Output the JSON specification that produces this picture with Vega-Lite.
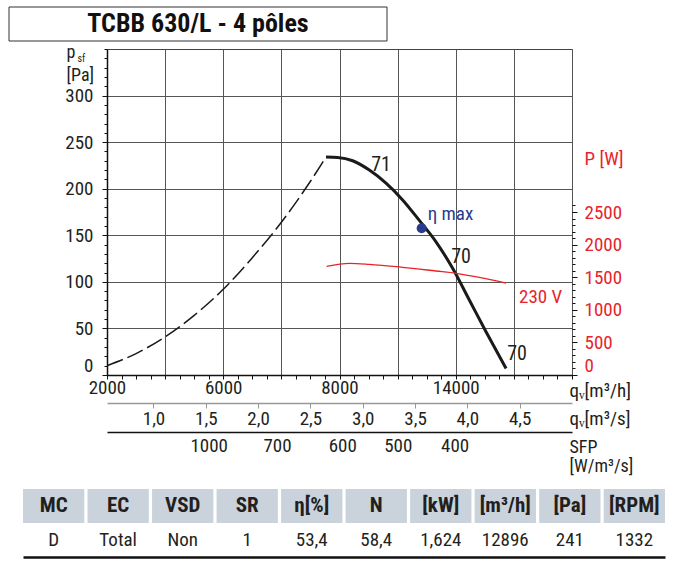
{
  "$schema": "https://vega.github.io/schema/vega-lite/v6.json",
  "width": 465,
  "height": 326,
  "autosize": {"type": "none"},
  "padding": {"left": 107, "top": 49, "right": 111, "bottom": 186},
  "background": "white",
  "datasets": {
    "system": [
      {"q": 2000, "pa": 10}, {"q": 3000, "pa": 23}, {"q": 4000, "pa": 41},
      {"q": 5000, "pa": 64}, {"q": 6000, "pa": 92}, {"q": 7000, "pa": 126},
      {"q": 8000, "pa": 164}, {"q": 9000, "pa": 208}, {"q": 9536, "pa": 234}
    ],
    "fan": [
      {"q": 9536, "pa": 234}, {"q": 9935, "pa": 233.5}, {"q": 10452, "pa": 230},
      {"q": 11026, "pa": 220}, {"q": 11600, "pa": 206}, {"q": 12172, "pa": 188},
      {"q": 12746, "pa": 166}, {"q": 13321, "pa": 143}, {"q": 13893, "pa": 114.5},
      {"q": 14467, "pa": 80.5}, {"q": 15041, "pa": 46.5}, {"q": 15730, "pa": 7}
    ],
    "power": [
      {"q": 9557, "p": 1665}, {"q": 10338, "p": 1713}, {"q": 11026, "p": 1698},
      {"q": 12172, "p": 1652}, {"q": 13321, "p": 1595}, {"q": 14009, "p": 1560},
      {"q": 14811, "p": 1498}, {"q": 15730, "p": 1410}
    ],
    "powerEnd": [{"q": 15730, "p": 1410, "label": "230 V"}],
    "etaMax": [{"qs": 3.563, "pa": 157.5, "label": "η max"}],
    "eff": [
      {"q": 11428, "pa": 225, "label": "71"},
      {"q": 14181, "pa": 127, "label": "70"},
      {"q": 16108, "pa": 23, "label": "70"}
    ],
    "table": [
      {"col": "MC", "row": "h", "text": "MC"}, {"col": "MC", "row": "v", "text": "D"},
      {"col": "EC", "row": "h", "text": "EC"}, {"col": "EC", "row": "v", "text": "Total"},
      {"col": "VSD", "row": "h", "text": "VSD"}, {"col": "VSD", "row": "v", "text": "Non"},
      {"col": "SR", "row": "h", "text": "SR"}, {"col": "SR", "row": "v", "text": "1"},
      {"col": "η[%]", "row": "h", "text": "η[%]"}, {"col": "η[%]", "row": "v", "text": "53,4"},
      {"col": "N", "row": "h", "text": "N"}, {"col": "N", "row": "v", "text": "58,4"},
      {"col": "[kW]", "row": "h", "text": "[kW]"}, {"col": "[kW]", "row": "v", "text": "1,624"},
      {"col": "[m³/h]", "row": "h", "text": "[m³/h]"}, {"col": "[m³/h]", "row": "v", "text": "12896"},
      {"col": "[Pa]", "row": "h", "text": "[Pa]"}, {"col": "[Pa]", "row": "v", "text": "241"},
      {"col": "[RPM]", "row": "h", "text": "[RPM]"}, {"col": "[RPM]", "row": "v", "text": "1332"}
    ],
    "title": [{"t": "TCBB 630/L - 4 pôles"}]
  },
  "layer": [
    {
      "data": {"name": "system"},
      "mark": {"type": "line", "color": "#1a1a1a", "strokeWidth": 1.5, "strokeDash": [17, 5], "interpolate": "monotone"},
      "encoding": {
        "x": {"field": "q", "type": "quantitative",
          "scale": {"domain": [2000, 18000], "nice": false, "zero": false},
          "axis": {"orient": "bottom", "values": [2000, 4000, 6000, 8000, 10000, 12000, 14000, 16000, 18000],
            "grid": true, "gridColor": "#555", "gridWidth": 1, "ticks": false,
            "domain": true, "domainColor": "#111", "domainWidth": 1.5,
            "labelExpr": "datum.value == 2000 ? '2000' : datum.value == 6000 ? '6000' : datum.value == 10000 ? '8000' : datum.value == 14000 ? '14000' : ''",
            "labelFontSize": 19, "labelColor": "#231f20", "labelPadding": 3, "labelFlush": false, "labelOverlap": false,
            "title": "qᵥ[m³/h]", "titleX": 462, "titleY": 21, "titleAlign": "left", "titleBaseline": "alphabetic",
            "titleAngle": 0, "titleFontSize": 19, "titleFontWeight": "normal", "titleColor": "#231f20"}},
        "y": {"field": "pa", "type": "quantitative",
          "scale": {"domain": [0, 350], "nice": false, "zero": true},
          "axis": {"orient": "left", "values": [0, 50, 100, 150, 200, 250, 300],
            "grid": true, "gridColor": "#555", "gridWidth": 1, "ticks": true, "tickSize": 5, "tickColor": "#111",
            "domain": true, "domainColor": "#111", "domainWidth": 1.5,
            "labelFontSize": 19, "labelColor": "#231f20", "labelPadding": 9, "labelFlush": true, "labelOverlap": false,
            "title": ["p", "[Pa]"], "titleX": -41, "titleY": 8, "titleAlign": "left", "titleBaseline": "alphabetic",
            "titleAngle": 0, "titleFontSize": 18, "titleLineHeight": 23, "titleFontWeight": "normal", "titleColor": "#231f20"}}
      }
    },
    {
      "data": {"name": "fan"},
      "mark": {"type": "line", "color": "#1a1a1a", "strokeWidth": 3, "interpolate": "monotone"},
      "encoding": {
        "x": {"field": "q", "type": "quantitative",
          "scale": {"domain": [2000, 18000], "nice": false, "zero": false},
          "axis": {"orient": "bottom", "values": [2000, 2500, 3000, 3500, 4000, 4500, 5000, 5500, 6000, 6500, 7000, 7500, 8000, 8500, 9000, 9500, 10000, 10500, 11000, 11500, 12000, 12500, 13000, 13500, 14000, 14500, 15000, 15500, 16000, 16500, 17000, 17500, 18000],
            "grid": false, "domain": false, "labels": false, "ticks": true, "tickSize": 4, "tickColor": "#111", "title": null}},
        "y": {"field": "pa", "type": "quantitative",
          "scale": {"domain": [0, 350], "nice": false, "zero": true},
          "axis": {"orient": "left", "values": [0, 10, 20, 30, 40, 50, 60, 70, 80, 90, 100, 110, 120, 130, 140, 150, 160, 170, 180, 190, 200, 210, 220, 230, 240, 250, 260, 270, 280, 290, 300, 310, 320, 330, 340, 350],
            "grid": false, "domain": false, "labels": false, "ticks": true, "tickSize": 3, "tickColor": "#111",
            "title": "sf", "titleX": -30, "titleY": 12, "titleAlign": "left", "titleBaseline": "alphabetic",
            "titleAngle": 0, "titleFontSize": 10, "titleFontWeight": "normal", "titleColor": "#231f20"}}
      }
    },
    {
      "data": {"name": "power"},
      "mark": {"type": "line", "color": "#e8232b", "strokeWidth": 1.3, "interpolate": "monotone"},
      "encoding": {
        "x": {"field": "q", "type": "quantitative", "scale": {"domain": [2000, 18000], "nice": false, "zero": false}, "axis": null},
        "y": {"field": "p", "type": "quantitative",
          "scale": {"domain": [0, 5000], "nice": false, "zero": true},
          "axis": {"orient": "right", "values": [0, 500, 1000, 1500, 2000, 2500], "format": "d",
            "grid": false, "domain": false, "ticks": true, "tickSize": 5, "tickColor": "#111",
            "labelFontSize": 19, "labelColor": "#e8232b", "labelPadding": 7, "labelFlush": true, "labelOverlap": false,
            "title": "P [W]", "titleX": 12, "titleY": 115, "titleAlign": "left", "titleBaseline": "alphabetic",
            "titleAngle": 0, "titleFontSize": 19, "titleFontWeight": "normal", "titleColor": "#e8232b"}}
      }
    },
    {
      "data": {"name": "powerEnd"},
      "mark": {"type": "text", "color": "#e8232b", "fontSize": 19, "align": "left", "baseline": "middle", "dx": 13, "dy": 14},
      "encoding": {
        "x": {"field": "q", "type": "quantitative", "scale": {"domain": [2000, 18000], "nice": false, "zero": false}, "axis": null},
        "y": {"field": "p", "type": "quantitative",
          "scale": {"domain": [0, 5000], "nice": false, "zero": true},
          "axis": {"orient": "right", "values": [0, 100, 200, 300, 400, 500, 600, 700, 800, 900, 1000, 1100, 1200, 1300, 1400, 1500, 1600, 1700, 1800, 1900, 2000, 2100, 2200, 2300, 2400, 2500, 2600],
            "grid": false, "domain": false, "labels": false, "ticks": true, "tickSize": 3, "tickColor": "#111", "title": null}},
        "text": {"field": "label"}
      }
    },
    {
      "data": {"name": "etaMax"},
      "mark": {"type": "point", "filled": true, "color": "#2b3a8f", "size": 100, "opacity": 1},
      "encoding": {
        "x": {"field": "qs", "type": "quantitative",
          "scale": {"domain": [0.5556, 5], "nice": false, "zero": false},
          "axis": {"orient": "bottom", "offset": 28, "values": [1, 1.5, 2, 2.5, 3, 3.5, 4, 4.5],
            "grid": false, "domain": true, "domainColor": "#999", "domainWidth": 1.5,
            "ticks": true, "tickSize": 5, "tickColor": "#999",
            "labelExpr": "replace(format(datum.value, '.1f'), '.', ',')",
            "labelFontSize": 19, "labelColor": "#231f20", "labelPadding": 1, "labelFlush": false, "labelOverlap": false,
            "title": "qᵥ[m³/s]", "titleX": 462, "titleY": 21, "titleAlign": "left", "titleBaseline": "alphabetic",
            "titleAngle": 0, "titleFontSize": 19, "titleFontWeight": "normal", "titleColor": "#231f20"}},
        "y": {"field": "pa", "type": "quantitative", "scale": {"domain": [0, 350], "nice": false, "zero": true}, "axis": null}
      }
    },
    {
      "data": {"name": "etaMax"},
      "mark": {"type": "text", "color": "#2b3a8f", "fontSize": 19, "align": "left", "baseline": "middle", "dx": 6, "dy": -14},
      "encoding": {
        "x": {"field": "qs", "type": "quantitative",
          "scale": {"domain": [0.5556, 5], "nice": false, "zero": false},
          "axis": {"orient": "bottom", "offset": 57, "values": [1.528, 2.18, 2.804, 3.335, 3.878],
            "grid": false, "domain": true, "domainColor": "#111", "domainWidth": 1.5, "ticks": false,
            "labelExpr": "datum.value < 2 ? '1000' : datum.value < 2.5 ? '700' : datum.value < 3 ? '600' : datum.value < 3.6 ? '500' : '400'",
            "labelFontSize": 19, "labelColor": "#231f20", "labelPadding": 4, "labelFlush": false, "labelOverlap": false,
            "title": ["SFP", "[W/m³/s]"], "titleX": 462, "titleY": 20, "titleAlign": "left", "titleBaseline": "alphabetic",
            "titleAngle": 0, "titleFontSize": 18, "titleLineHeight": 19, "titleFontWeight": "normal", "titleColor": "#231f20"}},
        "y": {"field": "pa", "type": "quantitative", "scale": {"domain": [0, 350], "nice": false, "zero": true}, "axis": null},
        "text": {"field": "label"}
      }
    },
    {
      "data": {"name": "eff"},
      "mark": {"type": "text", "color": "#231f20", "fontSize": 20, "align": "center", "baseline": "middle"},
      "encoding": {
        "x": {"field": "q", "type": "quantitative", "scale": {"domain": [2000, 18000], "nice": false, "zero": false}, "axis": null},
        "y": {"field": "pa", "type": "quantitative", "scale": {"domain": [0, 350], "nice": false, "zero": true}, "axis": null},
        "text": {"field": "label"}
      }
    },
    {
      "data": {"name": "table"},
      "transform": [{"filter": "datum.row == 'h'"}],
      "mark": {"type": "rect", "fill": "#cad3db"},
      "encoding": {
        "x": {"field": "col", "type": "nominal", "sort": null,
          "scale": {"type": "band", "range": [-84, 558], "paddingInner": 0.05, "paddingOuter": 0},
          "axis": {"orient": "bottom", "offset": 182, "domain": true, "domainColor": "#111", "domainWidth": 2.5,
            "ticks": false, "labels": false, "grid": false, "title": null}},
        "y": {"field": "row", "type": "nominal", "sort": null,
          "scale": {"type": "band", "domain": ["h", "v"], "range": [440, 508], "paddingInner": 0, "paddingOuter": 0},
          "axis": null}
      }
    },
    {
      "data": {"name": "table"},
      "transform": [{"filter": "datum.row == 'h'"}],
      "mark": {"type": "text", "color": "#231f20", "fontSize": 21, "fontWeight": "bold", "align": "center", "baseline": "middle"},
      "encoding": {
        "x": {"field": "col", "type": "nominal", "sort": null,
          "scale": {"type": "band", "domain": ["MC", "EC", "VSD", "SR", "η[%]", "N", "[kW]", "[m³/h]", "[Pa]", "[RPM]"], "range": [-84, 558], "paddingInner": 0.05, "paddingOuter": 0},
          "axis": null},
        "y": {"field": "row", "type": "nominal", "sort": null,
          "scale": {"type": "band", "domain": ["h", "v"], "range": [440, 508], "paddingInner": 0, "paddingOuter": 0},
          "axis": null},
        "text": {"field": "text"}
      }
    },
    {
      "data": {"name": "table"},
      "transform": [{"filter": "datum.row == 'v'"}],
      "mark": {"type": "text", "color": "#231f20", "fontSize": 19, "align": "center", "baseline": "middle"},
      "encoding": {
        "x": {"field": "col", "type": "nominal", "sort": null,
          "scale": {"type": "band", "domain": ["MC", "EC", "VSD", "SR", "η[%]", "N", "[kW]", "[m³/h]", "[Pa]", "[RPM]"], "range": [-84, 558], "paddingInner": 0.05, "paddingOuter": 0},
          "axis": null},
        "y": {"field": "row", "type": "nominal", "sort": null,
          "scale": {"type": "band", "domain": ["h", "v"], "range": [440, 508], "paddingInner": 0, "paddingOuter": 0},
          "axis": null},
        "text": {"field": "text"}
      }
    },
    {
      "data": {"name": "title"},
      "mark": {"type": "rect", "fill": "white", "stroke": "#333", "strokeWidth": 1},
      "encoding": {
        "x": {"field": "t", "type": "nominal", "scale": {"type": "band", "range": [-98, 280], "paddingInner": 0, "paddingOuter": 0}, "axis": null},
        "y": {"field": "t", "type": "nominal", "scale": {"type": "band", "range": [-42, -8], "paddingInner": 0, "paddingOuter": 0}, "axis": null}
      }
    },
    {
      "data": {"name": "title"},
      "mark": {"type": "text", "color": "#111", "fontSize": 26, "fontWeight": "bold", "align": "center", "baseline": "middle"},
      "encoding": {
        "x": {"field": "t", "type": "nominal", "scale": {"type": "band", "range": [-98, 280], "paddingInner": 0, "paddingOuter": 0}, "axis": null},
        "y": {"field": "t", "type": "nominal", "scale": {"type": "band", "range": [-42, -8], "paddingInner": 0, "paddingOuter": 0}, "axis": null},
        "text": {"field": "t"}
      }
    }
  ],
  "resolve": {
    "scale": {"x": "independent", "y": "independent"},
    "axis": {"x": "independent", "y": "independent"}
  },
  "config": {
    "font": "Roboto Condensed, Roboto",
    "view": {"stroke": "#444", "strokeWidth": 1},
    "axis": {"labelFont": "Roboto Condensed, Roboto", "titleFont": "Roboto Condensed, Roboto"},
    "text": {"font": "Roboto Condensed, Roboto"}
  }
}
